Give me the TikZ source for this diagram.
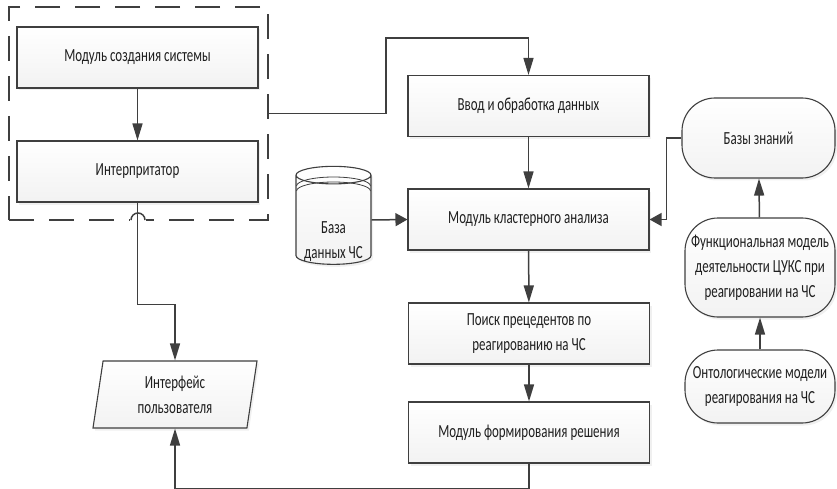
\documentclass[tikz,border=0pt]{standalone}
\usepackage{fontspec}
\setmainfont{Carlito}[FakeStretch=0.7]
\usetikzlibrary{arrows.meta,shapes,shadows}
\definecolor{linegray}{HTML}{3F3F3F}
\definecolor{textgray}{HTML}{1F1F1F}
\tikzstyle{block}=[rectangle,draw=linegray,line width=1.1pt,top color=white,bottom color=black!5,
    text=textgray,align=center,font=\fontsize{18.5}{25}\selectfont,
    drop shadow={shadow xshift=2pt,shadow yshift=-2.5pt,fill=black!20,opacity=0.3}]
\tikzstyle{module}=[block,minimum width=241pt,minimum height=61pt,inner sep=0pt]
\tikzstyle{knowledge}=[block,rounded corners=33pt,inner sep=0pt]
\tikzstyle{flow} = [draw=linegray,line width=1.5pt,-{Triangle[length=17pt,width=10pt]}]
\tikzstyle{sideflow} = [draw=linegray,line width=1.5pt,-{Triangle[length=12pt,width=13pt]}]
\tikzstyle{group} = [draw=linegray,line width=1.8pt,dash pattern=on 25pt off 15pt]

\begin{document}
\begin{tikzpicture}[x=1pt,y=-1pt]
    \useasboundingbox (0,0) rectangle (837,489);
    % Draw the system group with its two modules
    \node[group,minimum width=259pt,minimum height=213pt] (sys) at (138.5,113.5) {};
    \fill[white] (130,216) rectangle (146,224);
    \draw[linegray,line width=1.5pt] (131,220) arc[start angle=180,end angle=360,radius=7];
    % Then the modules of the main chain
    \foreach \pos/\name/\text in {{(137.5,57.5)/create/Модуль создания системы},
        {(137.5,171.5)/interp/Интерпритатор},
        {(528.5,106)/input/Ввод и обработка данных},
        {(528.5,219.5)/cluster/Модуль кластерного анализа},
        {(529,333.5)/search/Поиск прецедентов по\\реагированию на ЧС},
        {(529,432.5)/decide/Модуль формирования решения}}
        \node[module] (\name) at \pos {\text};
    % Database, user interface and the knowledge side
    \node[block,cylinder,shape border rotate=90,aspect=0.3,minimum width=75pt,minimum height=98pt,inner sep=0pt]
        (db) at (333.5,220) {\raisebox{-25pt}[0pt][0pt]{\begin{tabular}{@{}c@{}}База\\данных ЧС\end{tabular}}};
    \draw[linegray,line width=0.8pt] (296.5,186) arc[x radius=37,y radius=9,start angle=180,end angle=360];
    \draw[linegray,line width=0.8pt] (296.5,191) arc[x radius=37,y radius=9,start angle=180,end angle=360];
    \node[block,trapezium,trapezium left angle=75,trapezium right angle=105,trapezium stretches body,
        minimum width=164pt,minimum height=67pt,inner sep=0pt] (ui) at (175,394.5) {Интерфейс\\пользователя};
    \node[knowledge,minimum width=153pt,minimum height=80pt] (kb) at (758.5,138) {Базы знаний};
    \node[knowledge,minimum width=150pt,minimum height=99pt] (func) at (760,267.5)
        {Функциональная модель\\деятельности ЦУКС при\\реагировании на ЧС};
    \node[knowledge,minimum width=150pt,minimum height=73pt] (onto) at (760,386.5)
        {Онтологические модели\\реагирования на ЧС};
    % Connect the blocks
    \foreach \source/\dest in {create/interp, input/cluster, cluster/search, search/decide, onto/func, func/kb}
        \path[flow] (\source) -- (\dest);
    \coordinate (bend) at (386,38);
    \path[flow] (sys.east) -| (bend) -| (input.north);
    \path[sideflow] (db.east) -- (cluster.west);
    \path[sideflow] (kb.west) -- ++(-15,0) |- (cluster.east);
    \path[flow] (interp.south) -- ++(0,102) -| (ui.north);
    \path[flow] (decide.south) -- ++(0,25) -| (ui.south);
\end{tikzpicture}
\end{document}
